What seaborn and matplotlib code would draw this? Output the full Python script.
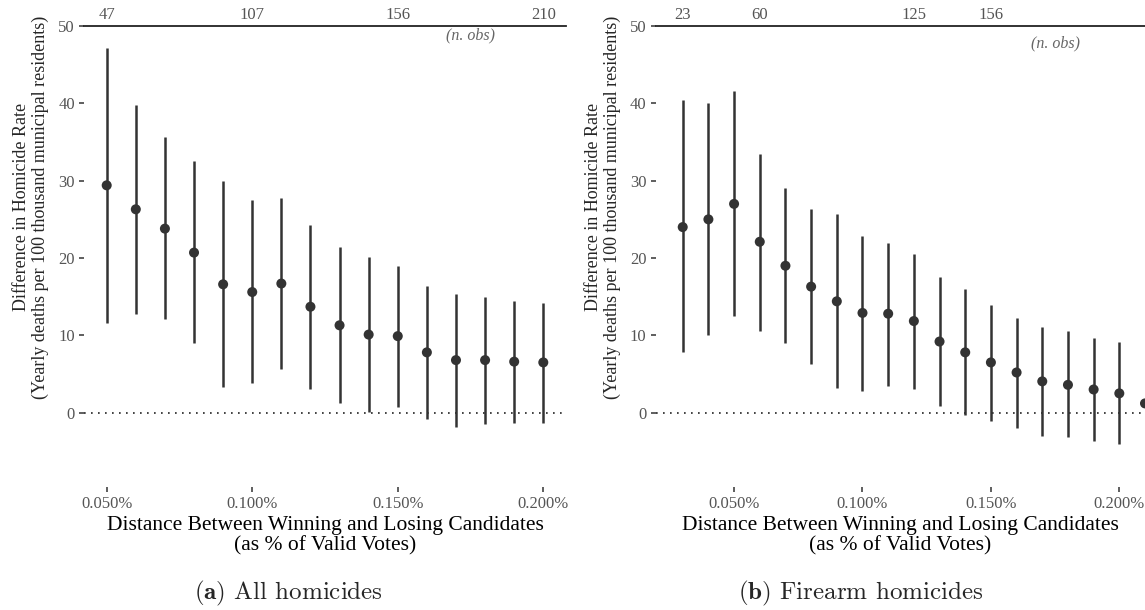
import numpy as np
import pandas as pd
import matplotlib
matplotlib.use("Agg")
import matplotlib.pyplot as plt
import seaborn as sns

# ---------------- data ----------------
# Panel (a): All homicides
a_x = [0.05, 0.06, 0.07, 0.08, 0.09, 0.10, 0.11, 0.12, 0.13, 0.14, 0.15, 0.16, 0.17, 0.18, 0.19, 0.20]
a_est = [29.4, 26.3, 23.8, 20.7, 16.6, 15.6, 16.7, 13.7, 11.3, 10.1, 9.9, 7.8, 6.8, 6.8, 6.6, 6.5]
a_lo = [11.6, 12.8, 12.1, 9.0, 3.3, 3.8, 5.7, 3.1, 1.2, 0.1, 0.7, -0.8, -1.8, -1.5, -1.3, -1.3]
a_hi = [47.2, 39.8, 35.6, 32.5, 29.9, 27.5, 27.7, 24.3, 21.4, 20.1, 19.0, 16.4, 15.4, 14.9, 14.4, 14.2]
a_top_ticks = [0.05, 0.10, 0.15, 0.20]
a_top_labels = ["47", "107", "156", "210"]

# Panel (b): Firearm homicides
b_x = [0.03, 0.04, 0.05, 0.06, 0.07, 0.08, 0.09, 0.10, 0.11, 0.12, 0.13, 0.14, 0.15, 0.16, 0.17,
       0.18, 0.19, 0.20, 0.21]
b_est = [24.0, 25.0, 27.0, 22.1, 19.0, 16.3, 14.4, 12.9, 12.8, 11.85, 9.2, 7.8, 6.5, 5.2, 4.05,
         3.6, 3.0, 2.5, 1.2]
b_lo = [7.8, 10.1, 12.5, 10.6, 9.0, 6.3, 3.2, 2.8, 3.5, 3.1, 0.9, -0.3, -1.1, -2.0, -3.0,
        -3.2, -3.7, -4.1, np.nan]
b_hi = [40.4, 40.0, 41.6, 33.5, 29.0, 26.3, 25.7, 22.9, 22.0, 20.5, 17.5, 16.0, 13.9, 12.3, 11.1,
        10.5, 9.6, 9.1, np.nan]
b_top_ticks = [0.03, 0.06, 0.12, 0.15]
b_top_labels = ["23", "60", "125", "156"]

x_ticks = [0.05, 0.10, 0.15, 0.20]
y_ticks = [0, 10, 20, 30, 40, 50]

xlabel = "Distance Between Winning and Losing Candidates\n(as % of Valid Votes)"
ylabel = "Difference in Homicide Rate\n(Yearly deaths per 100 thousand municipal residents)"
captions = [r"$\mathbf{(a)}$ All homicides", r"$\mathbf{(b)}$ Firearm homicides"]

# ---------------- style ----------------
sns.set_style("white")
plt.rcParams["font.family"] = ["Liberation Serif", "DejaVu Serif"]
plt.rcParams["mathtext.fontset"] = "cm"

INK = "#333333"
TICKGRAY = "#555555"

W, H = 1145, 610
fig = plt.figure(figsize=(W / 100, H / 100), dpi=100)
fig.patch.set_facecolor("white")


def px_axes(x0, x1, ytop, ybot):
    return fig.add_axes([x0 / W, 1 - ybot / H, (x1 - x0) / W, (ybot - ytop) / H])


def draw(ax, x, est, lo, hi, xlim, top_ticks, top_labels, nobs_xy):
    df = pd.DataFrame({"x": x, "est": est, "lo": lo, "hi": hi})
    ax.axhline(0, color="#222222", lw=1.2, ls=(0, (1, 3.2)), zorder=1)
    d = df.dropna()
    ax.vlines(d["x"], d["lo"], d["hi"], color=INK, lw=1.8, zorder=2)
    sns.scatterplot(data=df, x="x", y="est", ax=ax, s=52, color=INK,
                    edgecolor="none", linewidth=0, zorder=3, legend=False)
    ax.set_xlim(*xlim)
    ax.set_ylim(-9.57, 50)
    ax.set_xticks(x_ticks)
    ax.set_xticklabels([f"{v:.3f}%" for v in x_ticks])
    ax.set_yticks(y_ticks)
    ax.set_yticklabels([str(v) for v in y_ticks])
    for s in ["left", "right", "bottom"]:
        ax.spines[s].set_visible(False)
    ax.spines["top"].set_visible(True)
    ax.spines["top"].set_color("#222222")
    ax.spines["top"].set_linewidth(1.3)
    ax.tick_params(axis="both", which="both", direction="out", length=3.6, width=1.1,
                   color="#333333", labelsize=12, labelcolor=TICKGRAY, pad=3,
                   bottom=True, left=True, top=False, right=False)
    ax.set_ylabel("")
    ax.set_xlabel(xlabel, fontsize=15.5, color="black", linespacing=1.1, labelpad=3)
    ax.set_facecolor("none")
    sec = ax.secondary_xaxis("top")
    sec.set_xticks(top_ticks)
    sec.set_xticklabels(top_labels)
    sec.tick_params(length=0, pad=2, labelsize=12, labelcolor=TICKGRAY)
    sec.spines["top"].set_visible(False)
    ax.text(nobs_xy[0], nobs_xy[1], "(n. obs)", fontsize=11.5, style="italic",
            color="#666666", ha="center", va="center")


ax1 = px_axes(84, 566, 26, 486.7)
draw(ax1, a_x, a_est, a_lo, a_hi, (0.0422, 0.2078), a_top_ticks, a_top_labels, (0.175, 48.8))

ax2 = px_axes(655.7, 1145, 26, 486.7)
draw(ax2, b_x, b_est, b_lo, b_hi, (0.01948, 0.2100), b_top_ticks, b_top_labels, (0.175, 47.8))

for xc in (31, 603):
    fig.text(xc / W, 1 - 207 / H, ylabel, rotation=90, ha="center", va="center",
             fontsize=13, linespacing=1.2)

fig.text(288 / W, 1 - 593 / H, captions[0], family="cmr10", fontsize=18,
         ha="center", va="center")
fig.text(861 / W, 1 - 593 / H, captions[1], family="cmr10", fontsize=18,
         ha="center", va="center")

fig.savefig("out.png", dpi=100, facecolor="white")
